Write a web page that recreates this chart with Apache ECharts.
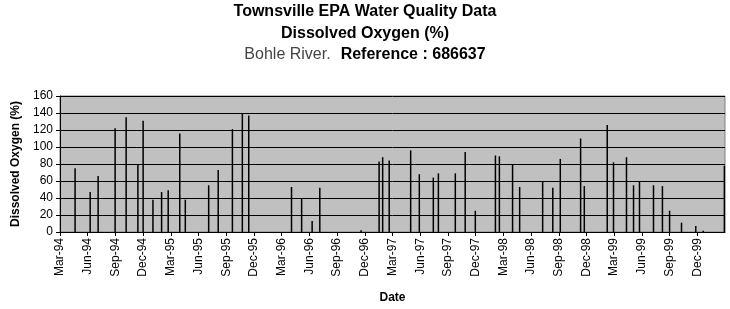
<!DOCTYPE html>
<html>
<head>
<meta charset="utf-8">
<script src="https://cdn.jsdelivr.net/npm/echarts@6/dist/echarts.min.js"></script>
<style>html,body{margin:0;padding:0;background:#fff}#c{width:730px;height:309px}</style>
</head>
<body>
<div id="c"></div>
<script>
const sampleDates = [
  "1994-04-20","1994-06-09","1994-07-05","1994-08-31","1994-10-06","1994-11-14","1994-12-01",
  "1995-01-03","1995-02-01","1995-02-21","1995-03-31","1995-04-18","1995-07-04","1995-08-05",
  "1995-09-21","1995-10-24","1995-11-14","1996-04-03","1996-05-06","1996-06-10","1996-07-05",
  "1996-11-19","1997-01-18","1997-01-30","1997-02-19","1997-04-30","1997-05-29","1997-07-14",
  "1997-07-31","1997-09-25","1997-10-28","1997-11-30","1998-02-05","1998-02-17","1998-04-01",
  "1998-04-24","1998-07-09","1998-08-12","1998-09-06","1998-11-12","1998-11-24","1999-02-08",
  "1999-02-27","1999-04-11","1999-05-04","1999-05-24","1999-07-09","1999-08-08","1999-09-01",
  "1999-10-10","1999-11-26","1999-12-21","2000-02-28"
];
const dissolvedOxygen = [
  75,47,66,122,135,79,131,
  38,47,49,116,38,55,73,
  121,140,137,53,40,13,52,
  2,83,88,84,96,68,64,
  69,69,94,25,90,89,79,
  53,59,52,86,110,54,126,
  82,88,55,60,55,54,25,
  11,7,1.5,78
];
const tickLabels = ["Mar-94","Jun-94","Sep-94","Dec-94","Mar-95","Jun-95","Sep-95","Dec-95",
  "Mar-96","Jun-96","Sep-96","Dec-96","Mar-97","Jun-97","Sep-97","Dec-97",
  "Mar-98","Jun-98","Sep-98","Dec-98","Mar-99","Jun-99","Sep-99","Dec-99","Mar-00"];

// fractional months since 1 Mar 1994
function monthPos(s){
  const [y,m,d] = s.split("-").map(Number);
  const dim = new Date(y, m, 0).getDate();
  return (y-1994)*12 + (m-3) + (d-1)/dim;
}
const data = sampleDates.map((s,i)=>[monthPos(s), dissolvedOxygen[i]]);

const chart = echarts.init(document.getElementById('c'), null, {renderer:'canvas'});
const F = 'Arial, "Liberation Sans", sans-serif';
chart.setOption({
  animation:false,
  backgroundColor:'#ffffff',
  title:{
    left:'center', top:1, padding:[0,0,0,6], itemGap:0,
    text:'{a|Townsville EPA Water Quality Data}\n{a|Dissolved Oxygen (%)}\n{g|Bohle River.}  {b|Reference : 686637}',
    textStyle:{
      rich:{
        a:{fontFamily:F,fontSize:16,fontWeight:'bold',color:'#000',lineHeight:21.5},
        b:{fontFamily:F,fontSize:16,fontWeight:'bold',color:'#000',lineHeight:22},
        g:{fontFamily:F,fontSize:16,fontWeight:'normal',color:'#444',lineHeight:22}
      }
    }
  },
  grid:{left:60,right:5,top:96,bottom:77,show:true,backgroundColor:'#c0c0c0',borderColor:'#808080',borderWidth:1},
  xAxis:{
    type:'value', min:0, max:72, interval:3,
    name:'Date', nameLocation:'middle', nameGap:60,
    nameTextStyle:{fontFamily:F,fontSize:12,fontWeight:'bold',color:'#000'},
    axisLine:{show:true,onZero:false,lineStyle:{color:'#000',width:1}},
    axisTick:{show:true,length:4,lineStyle:{color:'#000'}},
    splitLine:{show:false},
    axisLabel:{
      rotate:90, fontFamily:F, fontSize:12, color:'#000', margin:6,
      showMaxLabel:false,
      formatter:function(v){ const i=Math.round(v/3); return i<tickLabels.length-1 ? tickLabels[i] : ''; }
    }
  },
  yAxis:{
    type:'value', min:0, max:160, interval:20,
    name:'Dissolved Oxygen (%)', nameLocation:'middle', nameGap:38,
    nameTextStyle:{fontFamily:F,fontSize:12,fontWeight:'bold',color:'#000'},
    axisLine:{show:true,lineStyle:{color:'#000',width:1}},
    axisTick:{show:true,length:4,lineStyle:{color:'#000'}},
    axisLabel:{fontFamily:F,fontSize:12,color:'#000',margin:7},
    splitLine:{show:true,lineStyle:{color:'#000',width:1}}
  },
  series:[{
    type:'bar', data:data, barWidth:1.5,
    itemStyle:{color:'#000'}, silent:true
  }]
});
</script>
</body>
</html>
